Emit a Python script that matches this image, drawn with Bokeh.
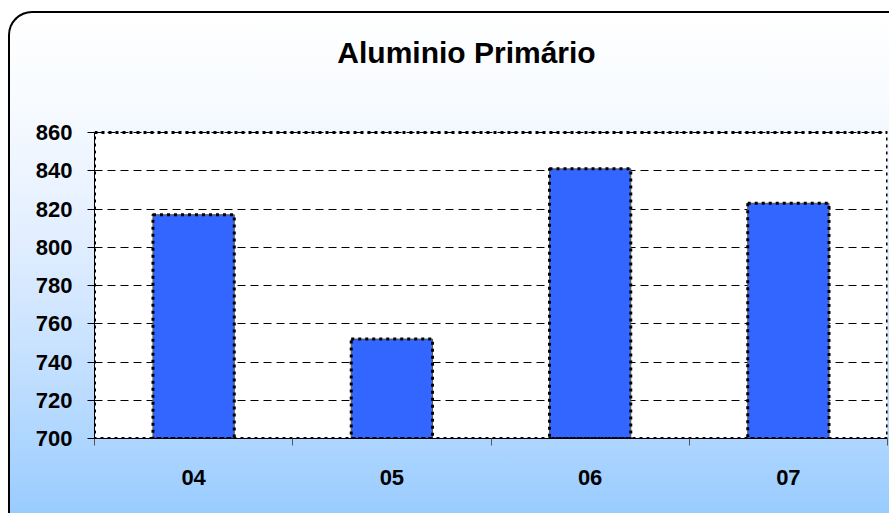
from bokeh.plotting import figure
from bokeh.models import Range1d, FixedTicker, ColumnDataSource, Label
from bokeh.embed import file_html
from bokeh.resources import INLINE

# ---- data ----
categories = ["04", "05", "06", "07"]
values = [817, 752, 841, 823]
y_ticks = [700, 720, 740, 760, 780, 800, 820, 840, 860]
title_text = "Aluminio Primário"

FONT = "Liberation Sans"

# ---- layout constants (pixels) ----
W, H = 881, 502
BORDER_L, BORDER_R, BORDER_B = 84, 4, 77
PLOT_AREA_H = 306          # height of the white plotting area (700..860)
FRAME_H = H - BORDER_B     # frame spans from canvas top down to the x axis

y0, y1 = y_ticks[0], y_ticks[-1]
y_end = y0 + (y1 - y0) * FRAME_H / PLOT_AREA_H
n = len(categories)

x_pos = [i + 0.5 for i in range(n)]
src = ColumnDataSource(dict(x=x_pos, top=values, cat=categories))

p = figure(width=W, height=H, output_backend="svg", toolbar_location=None,
           title=None,
           x_range=Range1d(0, n), y_range=Range1d(y0, y_end),
           min_border_left=BORDER_L, min_border_right=BORDER_R,
           min_border_top=0, min_border_bottom=BORDER_B)

p.styles = {
    "margin-left": "8px",
    "margin-top": "11px",
    "border-left": "2px solid #000",
    "border-top": "2px solid #000",
    "border-top-left-radius": "24px",
    "background": "linear-gradient(180deg, #ffffff 0%, #f6faff 20%, #e2eeff 45%, #c4e0ff 70%, #99ccff 100%)",
}
p.border_fill_color = None
p.background_fill_color = None
p.outline_line_color = None

# white plotting area
p.quad(left=0, right=n, bottom=y0, top=y1, fill_color="white",
       line_color=None, level="image")

# bars
p.vbar(x="x", top="top", bottom=y0, width=0.41, source=src,
       fill_color="#3366FF", line_color="#555555", line_width=1)
p.vbar(x="x", top="top", bottom=y0, width=0.41, source=src,
       fill_color=None, line_color="black", line_width=3, line_dash="3 4")

# dashed border of plotting area
p.quad(left=0, right=n, bottom=y0, top=y1, fill_color=None,
       line_color="black", line_width=3, line_dash="3 4")

# title (screen pixels relative to the frame)
p.add_layout(Label(x=372, y=PLOT_AREA_H + 80, x_units="screen", y_units="screen",
                   text=title_text, text_font=FONT, text_font_size="30px",
                   text_font_style="bold", text_color="black",
                   text_align="center", text_baseline="alphabetic"))

# grid
p.xgrid.visible = False
p.ygrid.ticker = FixedTicker(ticks=y_ticks, minor_ticks=[])
p.ygrid.grid_line_color = "black"
p.ygrid.grid_line_dash = "8 5"
p.ygrid.grid_line_width = 1

# y axis
yax = p.yaxis[0]
yax.bounds = (y0, y1)
yax.ticker = FixedTicker(ticks=y_ticks, minor_ticks=[])
yax.major_label_text_font = FONT
yax.major_label_text_font_size = "22px"
yax.major_label_text_font_style = "bold"
yax.major_label_text_color = "black"
yax.major_tick_out = 7
yax.major_tick_in = 0
yax.major_tick_line_color = "black"
yax.minor_tick_line_color = None
yax.axis_line_color = "black"
yax.major_label_standoff = 15

# x axis
xax = p.xaxis[0]
xax.ticker = FixedTicker(ticks=x_pos, minor_ticks=list(range(n + 1)))
xax.major_label_overrides = {float(x): c for x, c in zip(x_pos, categories)}
xax.major_label_text_font = FONT
xax.major_label_text_font_size = "22px"
xax.major_label_text_font_style = "bold"
xax.major_label_text_color = "black"
xax.major_tick_line_color = None
xax.major_tick_out = 0
xax.major_tick_in = 0
xax.minor_tick_out = 7
xax.minor_tick_in = 0
xax.minor_tick_line_color = "#555555"
xax.axis_line_color = "black"
xax.major_label_standoff = 24

open("out.html", "w").write(file_html(p, INLINE))
